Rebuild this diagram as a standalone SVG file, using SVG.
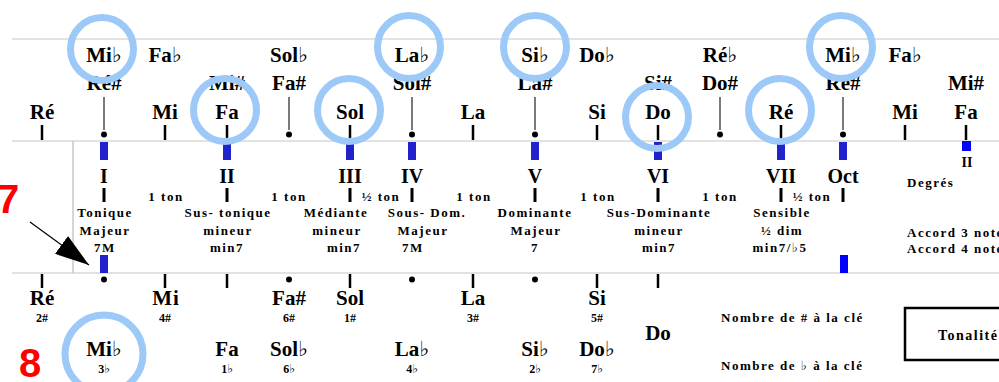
<svg xmlns="http://www.w3.org/2000/svg" width="999" height="382" viewBox="0 0 999 382">
<defs>
<style>
.n{font-family:"Liberation Serif","DejaVu Serif",serif;font-weight:bold;font-size:21px;text-anchor:middle;fill:#000}
.d{font-family:"Liberation Serif","DejaVu Serif",serif;font-weight:bold;font-size:20px;text-anchor:middle;fill:#000}
.s{font-family:"Liberation Serif","DejaVu Serif",serif;font-weight:bold;font-size:13px;letter-spacing:1.5px;text-anchor:middle;fill:#000}
.sl{font-family:"Liberation Serif","DejaVu Serif",serif;font-weight:bold;font-size:13px;letter-spacing:1.5px;fill:#000}
.k{font-family:"Liberation Serif","DejaVu Serif",serif;font-weight:bold;font-size:12px;text-anchor:middle;fill:#000}
.red{font-family:"Liberation Sans",Arial,sans-serif;font-weight:bold;font-size:40px;fill:#ff0000}
.grid{stroke:#d9d9d9;stroke-width:1.5;fill:none}
.tick{stroke:#000;stroke-width:2.5}
.tk3{stroke:#000;stroke-width:3}
.stem{stroke:#333;stroke-width:1.3}
.bar{fill:#2222cc}
.bar2{fill:#0000ff}
.ring{fill:none;stroke:#9cc9f7;stroke-width:7}
</style>
<marker id="ah" markerUnits="userSpaceOnUse" markerWidth="36" markerHeight="22" refX="34" refY="11" orient="auto">
<path d="M0,0 L34,11 L0,22 z" fill="#000"/>
</marker>
</defs>
<rect width="999" height="382" fill="#fff"/>

<g id="grid">
<line class="grid" x1="12" y1="39" x2="999" y2="39"/>
<line class="grid" x1="12" y1="141" x2="999" y2="141"/>
<line class="grid" x1="12" y1="273" x2="999" y2="273"/>
<line class="grid" x1="73" y1="141" x2="73" y2="273" style="stroke:#c8c8c8"/>
</g>

<g id="top-flats">
<text class="n" x="104" y="62">Mi♭</text>
<text class="n" x="165" y="62">Fa♭</text>
<text class="n" x="289" y="62">Sol♭</text>
<text class="n" x="412" y="62">La♭</text>
<text class="n" x="535" y="62">Si♭</text>
<text class="n" x="597" y="62">Do♭</text>
<text class="n" x="720" y="62">Ré♭</text>
<text class="n" x="843" y="62">Mi♭</text>
<text class="n" x="905" y="62">Fa♭</text>
</g>
<g id="top-sharps">
<text class="n" x="104" y="90">Ré#</text>
<text class="n" x="227" y="90">Mi#</text>
<text class="n" x="289" y="90">Fa#</text>
<text class="n" x="412" y="90">Sol#</text>
<text class="n" x="535" y="90">La#</text>
<text class="n" x="658" y="90">Si#</text>
<text class="n" x="720" y="90">Do#</text>
<text class="n" x="843" y="90">Ré#</text>
<text class="n" x="966" y="90">Mi#</text>
</g>
<g id="top-naturals">
<text class="n" x="42" y="119">Ré</text>
<text class="n" x="165" y="119">Mi</text>
<text class="n" x="227" y="119">Fa</text>
<text class="n" x="350" y="119">Sol</text>
<text class="n" x="473" y="119">La</text>
<text class="n" x="597" y="119">Si</text>
<text class="n" x="658" y="119">Do</text>
<text class="n" x="781" y="119">Ré</text>
<text class="n" x="905" y="119">Mi</text>
<text class="n" x="966" y="119">Fa</text>
</g>

<g id="top-ticks">
<line class="tick" x1="42" y1="125" x2="42" y2="140"/>
<line class="tick" x1="165" y1="125" x2="165" y2="140"/>
<line class="tick" x1="227" y1="125" x2="227" y2="140"/>
<line class="tick" x1="350" y1="125" x2="350" y2="140"/>
<line class="tick" x1="473" y1="125" x2="473" y2="140"/>
<line class="tick" x1="597" y1="125" x2="597" y2="140"/>
<line class="tick" x1="658" y1="125" x2="658" y2="140"/>
<line class="tick" x1="781" y1="125" x2="781" y2="140"/>
<line class="tick" x1="905" y1="125" x2="905" y2="140"/>
<line class="tick" x1="966" y1="125" x2="966" y2="140"/>
<line class="stem" x1="104" y1="97" x2="104" y2="130"/>
<line class="stem" x1="289" y1="97" x2="289" y2="130"/>
<line class="stem" x1="412" y1="97" x2="412" y2="130"/>
<line class="stem" x1="535" y1="97" x2="535" y2="130"/>
<line class="stem" x1="720" y1="97" x2="720" y2="130"/>
<line class="stem" x1="843" y1="97" x2="843" y2="130"/>
<circle cx="104" cy="134.5" r="3"/>
<circle cx="289" cy="134.5" r="3"/>
<circle cx="412" cy="134.5" r="3"/>
<circle cx="535" cy="134.5" r="3"/>
<circle cx="720" cy="134.5" r="3"/>
<circle cx="843" cy="134.5" r="3"/>
</g>

<g id="bars">
<rect class="bar" x="100" y="142" width="8" height="18"/>
<rect class="bar" x="223" y="142" width="8" height="18"/>
<rect class="bar" x="346" y="142" width="8" height="18"/>
<rect class="bar" x="408" y="142" width="8" height="18"/>
<rect class="bar" x="531" y="142" width="8" height="18"/>
<rect class="bar" x="654" y="142" width="8" height="18"/>
<rect class="bar" x="777" y="142" width="8" height="18"/>
<rect class="bar" x="839" y="142" width="8" height="18"/>
<rect class="bar2" x="962" y="141" width="9" height="10"/>
<rect class="bar" x="100" y="255" width="8" height="18"/>
<rect class="bar2" x="840" y="255" width="8" height="18"/>
</g>

<g id="degrees">
<text class="d" x="104" y="183">I</text>
<text class="d" x="227" y="183">II</text>
<text class="d" x="350" y="183">III</text>
<text class="d" x="412" y="183">IV</text>
<text class="d" x="535" y="183">V</text>
<text class="d" x="658" y="183">VI</text>
<text class="d" x="781" y="183">VII</text>
<text class="d" x="843" y="183">Oct</text>
<line class="tk3" x1="104" y1="188" x2="104" y2="202"/>
<line class="tk3" x1="227" y1="188" x2="227" y2="202"/>
<line class="tk3" x1="350" y1="188" x2="350" y2="202"/>
<line class="tk3" x1="412" y1="188" x2="412" y2="202"/>
<line class="tk3" x1="535" y1="188" x2="535" y2="202"/>
<line class="tk3" x1="658" y1="188" x2="658" y2="202"/>
<line class="tk3" x1="781" y1="188" x2="781" y2="202"/>
<line class="tk3" x1="843" y1="188" x2="843" y2="202"/>
<text class="s" x="166" y="201">1 ton</text>
<text class="s" x="289" y="201">1 ton</text>
<text class="s" x="381" y="201">½ ton</text>
<text class="s" x="474" y="201">1 ton</text>
<text class="s" x="598" y="201">1 ton</text>
<text class="s" x="720" y="201">1 ton</text>
<text class="s" x="812" y="201">½ ton</text>
</g>

<g id="functions">
<text class="s" x="105" y="217">Tonique</text>
<text class="s" x="105" y="235">Majeur</text>
<text class="s" x="105" y="252">7M</text>
<text class="s" x="228" y="217">Sus- tonique</text>
<text class="s" x="228" y="235">mineur</text>
<text class="s" x="227" y="252">min7</text>
<text class="s" x="336" y="217">Médiante</text>
<text class="s" x="337" y="235">mineur</text>
<text class="s" x="344" y="252">min7</text>
<text class="s" x="427" y="217">Sous- Dom.</text>
<text class="s" x="423" y="235">Majeur</text>
<text class="s" x="413" y="252">7M</text>
<text class="s" x="535" y="217">Dominante</text>
<text class="s" x="536" y="235">Majeur</text>
<text class="s" x="535" y="252">7</text>
<text class="s" x="659" y="217">Sus-Dominante</text>
<text class="s" x="659" y="235">mineur</text>
<text class="s" x="659" y="252">min7</text>
<text class="s" x="782" y="217">Sensible</text>
<text class="s" x="782" y="235">½ dim</text>
<text class="s" x="780" y="252">min7/♭5</text>
</g>

<g id="legend">
<text class="k" x="967" y="167" style="font-size:14px">II</text>
<text class="sl" x="907" y="187">Degrés</text>
<text class="sl" x="907" y="237">Accord 3 notes</text>
<text class="sl" x="907" y="253">Accord 4 notes</text>
<text class="sl" x="721" y="322">Nombre de # à la clé</text>
<text class="sl" x="721" y="370">Nombre de ♭ à la clé</text>
<rect x="905" y="308" width="120" height="52" fill="none" stroke="#000" stroke-width="2.5"/>
<text class="sl" x="938" y="340" style="font-size:14px">Tonalité</text>
</g>

<g id="bottom-ticks">
<line class="tick" x1="42" y1="274" x2="42" y2="288"/>
<line class="tick" x1="165" y1="274" x2="165" y2="288"/>
<line class="tick" x1="227" y1="274" x2="227" y2="288"/>
<line class="tick" x1="350" y1="274" x2="350" y2="288"/>
<line class="tick" x1="473" y1="274" x2="473" y2="288"/>
<line class="tick" x1="597" y1="274" x2="597" y2="288"/>
<line class="tick" x1="658" y1="274" x2="658" y2="288"/>
<circle cx="104" cy="279.5" r="3"/>
<circle cx="289" cy="279.5" r="3"/>
<circle cx="412" cy="279.5" r="3"/>
<circle cx="535" cy="279.5" r="3"/>
</g>

<g id="bottom-sharps">
<text class="n" x="42" y="305">Ré</text><text class="k" x="42" y="322">2#</text>
<text class="n" x="166" y="305" style="letter-spacing:1px">Mi</text><text class="k" x="165" y="322">4#</text>
<text class="n" x="289" y="305">Fa#</text><text class="k" x="289" y="322">6#</text>
<text class="n" x="350" y="305">Sol</text><text class="k" x="350" y="322">1#</text>
<text class="n" x="473" y="305">La</text><text class="k" x="473" y="322">3#</text>
<text class="n" x="597" y="305">Si</text><text class="k" x="597" y="322">5#</text>
<text class="n" x="658" y="340">Do</text>
</g>
<g id="bottom-flats">
<text class="n" x="104" y="356">Mi♭</text><text class="k" x="104" y="373">3♭</text>
<text class="n" x="227" y="356">Fa</text><text class="k" x="227" y="373">1♭</text>
<text class="n" x="289" y="356">Sol♭</text><text class="k" x="289" y="373">6♭</text>
<text class="n" x="412" y="356">La♭</text><text class="k" x="412" y="373">4♭</text>
<text class="n" x="535" y="356">Si♭</text><text class="k" x="535" y="373">2♭</text>
<text class="n" x="597" y="356">Do♭</text><text class="k" x="597" y="373">7♭</text>
</g>

<g id="rings">
<circle class="ring" cx="102" cy="49" r="31.5"/>
<circle class="ring" cx="225" cy="110" r="31.5"/>
<circle class="ring" cx="349" cy="110" r="31.5"/>
<circle class="ring" cx="409" cy="47" r="31.5"/>
<circle class="ring" cx="535" cy="47" r="31.5"/>
<circle class="ring" cx="657" cy="117" r="31.5"/>
<circle class="ring" cx="780" cy="110" r="31.5"/>
<circle class="ring" cx="841" cy="47" r="31.5"/>
<circle class="ring" cx="104" cy="354" r="39"/>
</g>

<g id="markers">
<text class="red" x="-3" y="213">7</text>
<text class="red" x="19" y="377">8</text>
</g>

<g id="connectors">
<line x1="30" y1="222" x2="89" y2="265" stroke="#000" stroke-width="1.2" marker-end="url(#ah)"/>
</g>
</svg>
